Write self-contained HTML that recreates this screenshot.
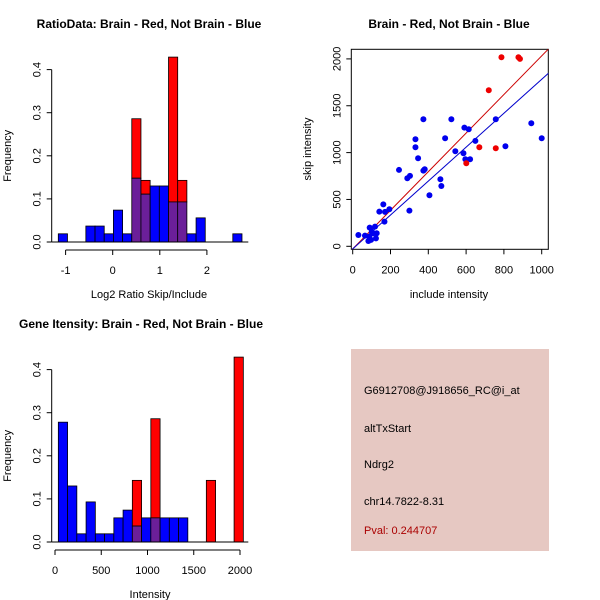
<!DOCTYPE html>
<html><head><meta charset="utf-8"><style>
html,body{margin:0;padding:0;background:#fff}
svg{display:block;font-family:"Liberation Sans",sans-serif}
</style></head><body>
<svg id="chart" width="600" height="600" viewBox="0 0 600 600"></svg>
<script>
// ---- Top-left histogram data (Log2 ratio) ----
const ratioBinStart = -1.155;
const ratioBinWidth = 0.195;
const ratioBlue = [0.019,0,0,0.037,0.037,0.019,0.074,0.019,0.148,0.111,0.13,0.13,0.093,0.093,0.019,0.056,0,0,0,0.019];
const ratioRed  = [0,0,0,0,0,0,0,0,0.286,0.143,0,0,0.429,0.143,0,0,0,0,0,0];
const ratioXTicks = [-1,0,1,2];
const freqTicks = [0,0.1,0.2,0.3,0.4];
// ---- Bottom-left histogram data (Intensity) ----
const intBinStart = 36;
const intBinWidth = 100;
const intBlue = [0.278,0.13,0.019,0.093,0.019,0.019,0.056,0.074,0.037,0.056,0.056,0.056,0.056,0.056,0,0,0,0,0,0];
const intRed  = [0,0,0,0,0,0,0,0,0.143,0,0.286,0,0,0,0,0,0.143,0,0,0.429];
const intXTicks = [0,500,1000,1500,2000];
// ---- Scatter data ----
const blueInclude = [30,65,83,90,88,97,109,118,123,127,101,141,162,171,168,194,245,289,303,300,332,332,346,374,381,374,406,464,469,489,522,543,586,591,596,621,614,649,757,808,945,1000];
const blueSkip    = [121,114,57,199,103,68,139,210,85,139,157,370,448,367,263,395,815,726,751,381,1142,1057,940,808,822,1356,545,715,644,1153,1356,1014,993,1267,929,929,1249,1125,1356,1068,1313,1153];
const redInclude = [787,877,885,720,670,757,601];
const redSkip    = [2018,2018,2000,1666,1057,1046,886];
const redFit = [-28, 2.06];
const blueFit = [-28, 1.81];
const scXTicks = [0,200,400,600,800,1000];
const scYTicks = [0,500,1000,1500,2000];

const NS='http://www.w3.org/2000/svg';
const svg=document.getElementById('chart');
function el(tag,attrs,parent,text){const e=document.createElementNS(NS,tag);for(const k in attrs)e.setAttribute(k,attrs[k]);if(text!==undefined)e.textContent=text;(parent||svg).appendChild(e);return e;}

function histogram(opts){
  const g=el('g',{});
  
  
  const xs=v=>opts.x0px+(v-opts.x0)*opts.xk;
  const ys=v=>opts.y0px-v*opts.yk;
  const n=opts.blue.length;
  for(let i=0;i<n;i++){
    const a=xs(opts.start+i*opts.width), b=xs(opts.start+(i+1)*opts.width);
    const bv=opts.blue[i], rv=opts.red[i];
    const lo=Math.min(bv,rv), hi=Math.max(bv,rv);
    if(hi>0){
      const top=el('rect',{x:a,y:ys(hi),width:b-a,height:ys(lo)-ys(hi),fill:rv>bv?'#ff0000':'#0000ff',stroke:'#000','stroke-width':0.8},g);
      
      
    }
    if(lo>0){
      const ov=el('rect',{x:a,y:ys(lo),width:b-a,height:ys(0)-ys(lo),fill:'#6b1f99',stroke:'#000','stroke-width':0.8},g);
      
      
    }
  }
  el('line',{x1:opts.frameL,x2:opts.frameR,y1:ys(0),y2:ys(0),stroke:'#000'},g);
  const ya=el('g',{},g);
  
  
  el('line',{x1:opts.yAxisX,x2:opts.yAxisX,y1:ys(0),y2:ys(0.4),stroke:'#000'},ya);
  freqTicks.forEach(t=>{
    el('line',{x1:opts.yAxisX-5,x2:opts.yAxisX,y1:ys(t),y2:ys(t),stroke:'#000'},ya);
    el('text',{x:opts.yAxisX-11,y:ys(t),'font-size':11,'text-anchor':'middle',transform:`rotate(-90 ${opts.yAxisX-11} ${ys(t)})`},ya,t.toFixed(1));
  });
  const yt=el('text',{x:11,y:(ys(0)+ys(0.4))/2,'font-size':11,'text-anchor':'middle',transform:`rotate(-90 11 ${(ys(0)+ys(0.4))/2})`},g,'Frequency');
  
  
  const xa=el('g',{},g);
  
  
  const ax=opts.xAxisY;
  el('line',{x1:xs(opts.ticks[0]),x2:xs(opts.ticks[opts.ticks.length-1]),y1:ax,y2:ax,stroke:'#000'},xa);
  opts.ticks.forEach(t=>{
    el('line',{x1:xs(t),x2:xs(t),y1:ax,y2:ax+5,stroke:'#000'},xa);
    el('text',{x:xs(t),y:ax+24,'font-size':11,'text-anchor':'middle'},xa,String(t));
  });
  const xt=el('text',{x:opts.titleX,y:ax+48,'font-size':11,'text-anchor':'middle'},g,opts.xTitle);
  
  
  const tt=el('text',{x:opts.mainX,y:opts.mainY,'font-size':12,'font-weight':'bold','text-anchor':'middle'},g,opts.title);
  
  
}

histogram({name:'ratio-histogram',blue:ratioBlue,red:ratioRed,start:ratioBinStart,width:ratioBinWidth,
  x0:0,x0px:112.7,xk:47.1,y0px:242,yk:431,frameL:51.7,frameR:248.3,yAxisX:51.7,xAxisY:250,
  ticks:ratioXTicks,xTitle:'Log2 Ratio Skip/Include',titleX:149,title:'RatioData: Brain - Red, Not Brain - Blue',mainX:149,mainY:28});
histogram({name:'intensity-histogram',blue:intBlue,red:intRed,start:intBinStart,width:intBinWidth,
  x0:0,x0px:55,xk:0.0925,y0px:542,yk:431,frameL:51.7,frameR:248.3,yAxisX:51.7,xAxisY:550,
  ticks:intXTicks,xTitle:'Intensity',titleX:150,title:'Gene Itensity: Brain - Red, Not Brain - Blue',mainX:141,mainY:328});

// ---- Scatter ----
(function(){
  const g=el('g',{});
  
  
  const xs=v=>352.7+v*0.189;
  const ys=v=>246.3-v*0.0937;
  const L=351.3,R=548.3,T=49.3,B=249.3;
  el('defs',{},g).innerHTML='<clipPath id="sc"><rect x="'+L+'" y="'+T+'" width="'+(R-L)+'" height="'+(B-T)+'"/></clipPath>';
  const fr=el('rect',{x:L,y:T,width:R-L,height:B-T,fill:'none',stroke:'#000'},g);
  
  
  const xmin=-20,xmax=1100;
  [[redFit,'#cc0000','red-fit-line'],[blueFit,'#0000cc','blue-fit-line']].forEach(([f,c,n])=>{
    const ln=el('line',{x1:xs(xmin),y1:ys(f[0]+f[1]*xmin),x2:xs(xmax),y2:ys(f[0]+f[1]*xmax),stroke:c,'stroke-width':1,'clip-path':'url(#sc)'},g);
    
    
  });
  blueInclude.forEach((v,i)=>{
    const p=el('circle',{cx:xs(v),cy:ys(blueSkip[i]),r:3,fill:'#0000ee'},g);
    
    
  });
  redInclude.forEach((v,i)=>{
    const p=el('circle',{cx:xs(v),cy:ys(redSkip[i]),r:3,fill:'#ee0000'},g);
    
    
  });
  const xa=el('g',{},g);
  
  
  scXTicks.forEach(t=>{
    el('line',{x1:xs(t),x2:xs(t),y1:B,y2:B+5,stroke:'#000'},xa);
    el('text',{x:xs(t),y:B+24,'font-size':11,'text-anchor':'middle'},xa,String(t));
  });
  const ya=el('g',{},g);
  
  
  scYTicks.forEach(t=>{
    el('line',{x1:L-5,x2:L,y1:ys(t),y2:ys(t),stroke:'#000'},ya);
    el('text',{x:L-11,y:ys(t),'font-size':11,'text-anchor':'middle',transform:`rotate(-90 ${L-11} ${ys(t)})`},ya,String(t));
  });
  const xt=el('text',{x:449,y:298,'font-size':11,'text-anchor':'middle'},g,'include intensity');
  
  
  const yt=el('text',{x:311,y:149,'font-size':11,'text-anchor':'middle',transform:'rotate(-90 311 149)'},g,'skip intensity');
  
  
  const tt=el('text',{x:449,y:28,'font-size':12,'font-weight':'bold','text-anchor':'middle'},g,'Brain - Red, Not Brain - Blue');
  
  
})();
</script>
<div style="position:absolute;left:351px;top:349px;width:198px;height:202px;background:#e6c8c2;font-family:'Liberation Sans',sans-serif;font-size:11px;color:#000">
  <div style="position:absolute;left:13px;top:36px;white-space:nowrap">G6912708@J918656_RC@i_at</div>
  <div style="position:absolute;left:13px;top:74px">altTxStart</div>
  <div style="position:absolute;left:13px;top:110px">Ndrg2</div>
  <div style="position:absolute;left:13px;top:147px">chr14.7822-8.31</div>
  <div style="position:absolute;left:13px;top:176px;color:#aa0000">Pval: 0.244707</div>
</div>
</body></html>
